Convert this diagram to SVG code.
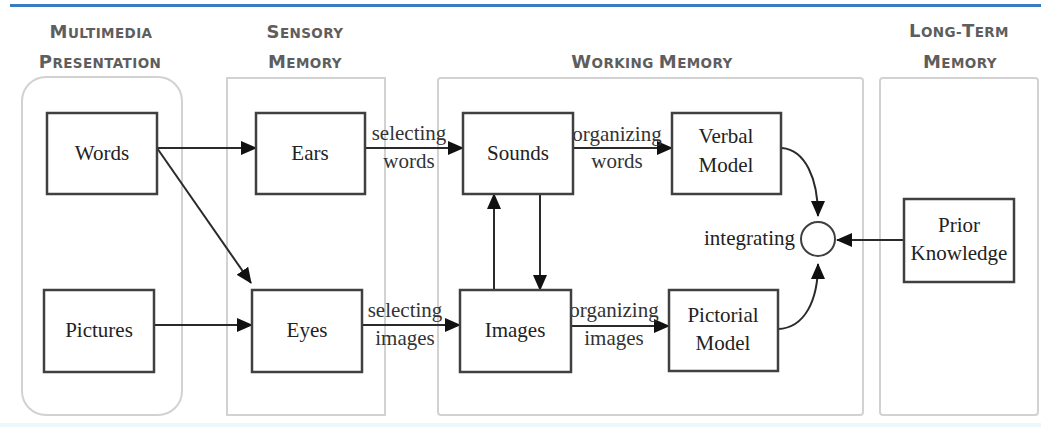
<svg xmlns="http://www.w3.org/2000/svg" width="1041" height="427" viewBox="0 0 1041 427">
<style>
.panel{fill:none;stroke:#d2d2d2;stroke-width:2}
.box{fill:#fff;stroke:#404040;stroke-width:2.5}
.lbl{font-family:"Liberation Serif","Times New Roman",serif;font-size:21px;fill:#222;text-anchor:middle}
.cl{font-family:"Liberation Serif","Times New Roman",serif;font-size:21px;fill:#333;text-anchor:middle}
.hd{font-family:"DejaVu Sans","Lato",sans-serif;font-size:18px;font-weight:bold;fill:#5e5e5e;text-anchor:middle;letter-spacing:0.4px}
.sc{font-size:13.5px}
.con{fill:none;stroke:#2a2a2a;stroke-width:2}
</style>
<defs>
<marker id="ah" markerUnits="userSpaceOnUse" markerWidth="16" markerHeight="14" refX="15" refY="7" orient="auto">
<path d="M0,0 L16,7 L0,14 z" fill="#111"/>
</marker>
</defs>
<rect width="1041" height="427" fill="#fff"/>
<line x1="10" y1="5.5" x2="1041" y2="5.5" stroke="#3b7bc3" stroke-width="3"/>
<rect x="0" y="423" width="1041" height="4" fill="#eaf8fb"/>

<g id="headings">
<text class="hd" x="101" y="38">M<tspan class="sc">ULTIMEDIA</tspan></text>
<text class="hd" x="100" y="68">P<tspan class="sc">RESENTATION</tspan></text>
<text class="hd" x="305" y="38">S<tspan class="sc">ENSORY</tspan></text>
<text class="hd" x="305" y="68">M<tspan class="sc">EMORY</tspan></text>
<text class="hd" x="652" y="68">W<tspan class="sc">ORKING </tspan>M<tspan class="sc">EMORY</tspan></text>
<text class="hd" x="959" y="37">L<tspan class="sc">ONG-</tspan>T<tspan class="sc">ERM</tspan></text>
<text class="hd" x="960" y="68">M<tspan class="sc">EMORY</tspan></text>
</g>

<g id="panels">
<rect class="panel" x="22" y="77" width="160" height="338" rx="24"/>
<rect class="panel" x="227" y="78" width="158" height="337"/>
<rect class="panel" x="438" y="78" width="425" height="337" rx="3"/>
<rect class="panel" x="880" y="78" width="158" height="337" rx="3"/>
</g>

<g id="connectors">
<line class="con" x1="157" y1="148" x2="256" y2="148" marker-end="url(#ah)"/>
<line class="con" x1="157" y1="148" x2="251" y2="283" marker-end="url(#ah)"/>
<line class="con" x1="154" y1="325" x2="252" y2="325" marker-end="url(#ah)"/>
<line class="con" x1="365" y1="148" x2="463" y2="148" marker-end="url(#ah)"/>
<line class="con" x1="362" y1="325" x2="460" y2="325" marker-end="url(#ah)"/>
<line class="con" x1="494" y1="290" x2="494" y2="194" marker-end="url(#ah)"/>
<line class="con" x1="540" y1="194" x2="540" y2="290" marker-end="url(#ah)"/>
<line class="con" x1="573" y1="148" x2="672" y2="148" marker-end="url(#ah)"/>
<line class="con" x1="571" y1="326" x2="669" y2="326" marker-end="url(#ah)"/>
<path class="con" d="M782,148 C805,150 818,178 818,216" marker-end="url(#ah)"/>
<path class="con" d="M778,329 C805,328 818,300 818,264" marker-end="url(#ah)"/>
<line class="con" x1="904" y1="240" x2="837" y2="240" marker-end="url(#ah)"/>
<text class="cl" x="409" y="140">selecting</text>
<text class="cl" x="409" y="168">words</text>
<text class="cl" x="405" y="317">selecting</text>
<text class="cl" x="405" y="345">images</text>
<text class="cl" x="617" y="141">organizing</text>
<text class="cl" x="617" y="168">words</text>
<text class="cl" x="614" y="317">organizing</text>
<text class="cl" x="614" y="345">images</text>
</g>

<g id="words"><rect class="box" x="47" y="113" width="110" height="81"/><text class="lbl" x="102" y="160">Words</text></g>
<g id="pictures"><rect class="box" x="44" y="290" width="110" height="82"/><text class="lbl" x="99" y="337">Pictures</text></g>
<g id="ears"><rect class="box" x="256" y="113" width="109" height="81"/><text class="lbl" x="310" y="160">Ears</text></g>
<g id="eyes"><rect class="box" x="252" y="290" width="110" height="82"/><text class="lbl" x="307" y="337">Eyes</text></g>
<g id="sounds"><rect class="box" x="463" y="113" width="110" height="81"/><text class="lbl" x="518" y="160">Sounds</text></g>
<g id="images"><rect class="box" x="460" y="290" width="111" height="82"/><text class="lbl" x="515" y="337">Images</text></g>
<g id="verbal-model"><rect class="box" x="672" y="113" width="109" height="81"/><text class="lbl" x="726" y="143">Verbal</text><text class="lbl" x="726" y="172">Model</text></g>
<g id="pictorial-model"><rect class="box" x="669" y="290" width="109" height="81"/><text class="lbl" x="723" y="322">Pictorial</text><text class="lbl" x="723" y="350">Model</text></g>
<g id="prior-knowledge"><rect class="box" x="904" y="199" width="110" height="83"/><text class="lbl" x="959" y="232">Prior</text><text class="lbl" x="959" y="260">Knowledge</text></g>
<g id="integrating"><circle cx="818" cy="239" r="17" fill="#fff" stroke="#404040" stroke-width="2"/><text class="lbl" x="795" y="245" style="text-anchor:end">integrating</text></g>
</svg>
